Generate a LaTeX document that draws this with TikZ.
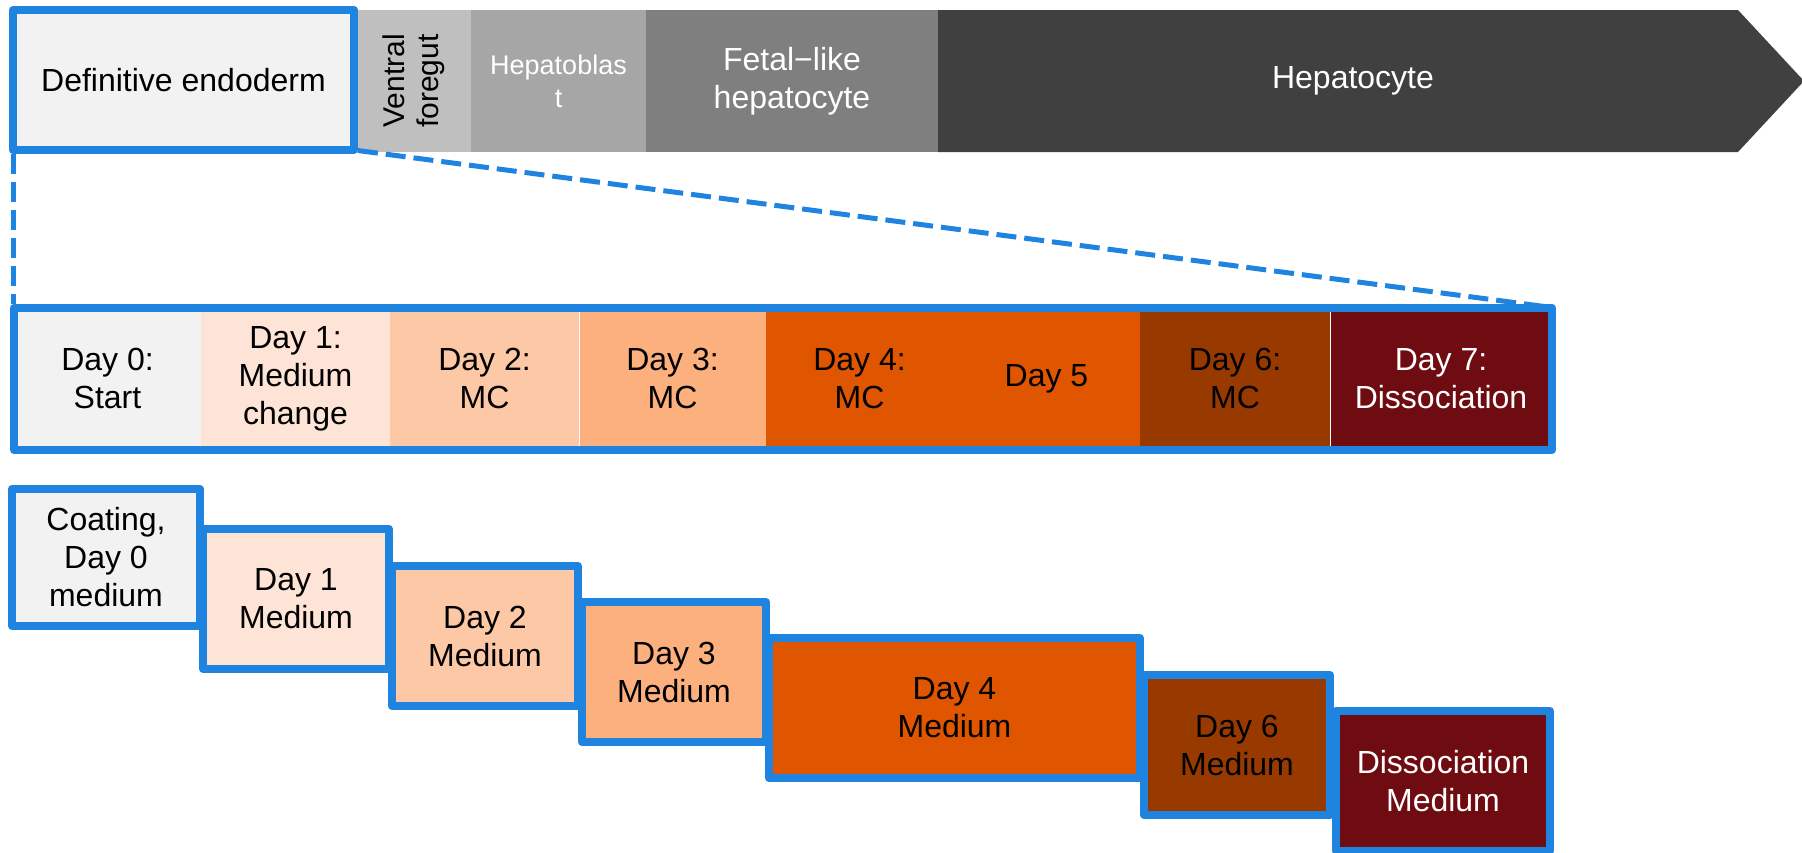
\documentclass[tikz,border=0pt]{standalone}
\usepackage{fontspec}
\setmainfont{Liberation Sans}
\usepackage{tikz}
\usetikzlibrary{positioning}

\definecolor{edgeblue}{RGB}{30,132,224}
\definecolor{degray}{HTML}{F2F2F2}
\definecolor{vfgray}{HTML}{BFBFBF}
\definecolor{hbgray}{HTML}{A6A6A6}
\definecolor{flgray}{HTML}{7F7F7F}
\definecolor{hcgray}{HTML}{404040}
\definecolor{dayzero}{HTML}{F2F2F2}
\definecolor{dayone}{HTML}{FDE4D6}
\definecolor{daytwo}{HTML}{FCC8A6}
\definecolor{daythree}{HTML}{FBB07E}
\definecolor{dayfour}{HTML}{E05500}
\definecolor{daysix}{HTML}{983A00}
\definecolor{dayseven}{HTML}{6F0C12}

\begin{document}
\begin{tikzpicture}[x=1pt, y=-1pt,
  every node/.style={inner sep=0pt, outer sep=0pt, align=center,
    font=\fontsize{32}{38}\selectfont},
  stage/.style={fill=#1, minimum height=142pt},
  day/.style={fill=#1, minimum height=143pt},
  box/.style={fill=#1, draw=edgeblue, line width=8pt, line join=round},
  dashline/.style={draw=edgeblue, line width=5pt, dash pattern=on 20pt off 8pt}]
\useasboundingbox (0,0) rectangle (1802,852);

% developmental stages
\node[stage=vfgray, rotate=90, minimum width=142pt, minimum height=114pt,
  font=\fontsize{30}{34}\selectfont] (vf) at (414,81) {Ventral\\foregut};
\node[stage=hbgray, minimum width=175pt, text=white,
  font=\fontsize{27}{33}\selectfont] (hb) at (558.5,81) {Hepatoblas\\t};
\node[stage=flgray, minimum width=292pt, text=white] (fl) at (792,81) {Fetal−like\\hepatocyte};
\fill[hcgray] (938,10) -- (1738,10) -- (1804,81) -- (1738,152) -- (938,152) -- cycle;
\node[text=white] (hc) at (1353,81) {Hepatocyte};
\node[box=degray, minimum width=341pt, minimum height=140pt] (de) at (183.5,80) {Definitive endoderm};

% day by day
\foreach \n/\c/\w/\f/\o/\k/\t in {
  0/107.5/187/dayzero/none/black/{Day 0:\\Start},
  1/295.5/189/dayone/none/black/{Day 1:\\Medium\\change},
  2/484.5/189/daytwo/none/black/{Day 2:\\MC},
  3/672.5/187/daythree/white/black/{Day 3:\\MC},
  4/859.5/187/dayfour/none/black/{Day 4:\\MC},
  5/1046.5/187/dayfour/none/black/{Day 5},
  6/1235/190/daysix/none/black/{Day 6:\\MC},
  7/1441/222/dayseven/white/white/{Day 7:\\Dissociation}}
  \node[day=\f, draw=\o, line width=1pt, text=\k, minimum width=\w pt] (d\n) at (\c,378.5) {\t};
\node[draw=edgeblue, line width=8pt, line join=round, minimum width=1538pt,
  minimum height=142.5pt] (mid) at (783,378.75) {};

\draw[dashline, shorten <=4pt, shorten >=4pt] (de.south west) -- (de.south west |- mid.north);
\draw[dashline, shorten <=4pt, shorten >=4pt] (de.south east) -- (mid.north east);

% media
\foreach \n/\c/\w/\y/\h/\f/\k/\t in {
  0/106/188/557.5/137/dayzero/black/{Coating,\\Day 0\\medium},
  1/296/186/599/140/dayone/black/{Day 1\\Medium},
  2/485/186/636/140/daytwo/black/{Day 2\\Medium},
  3/674/184/672/140/daythree/black/{Day 3\\Medium},
  4/954.5/371/708/140/dayfour/black/{Day 4\\Medium},
  5/1237/186/745/140/daysix/black/{Day 6\\Medium},
  6/1443/214/781/140/dayseven/white/{Dissociation\\Medium}}
  \node[box=\f, text=\k, minimum width=\w pt, minimum height=\h pt] (m\n) at (\c,\y) {\t};
\end{tikzpicture}
\end{document}
